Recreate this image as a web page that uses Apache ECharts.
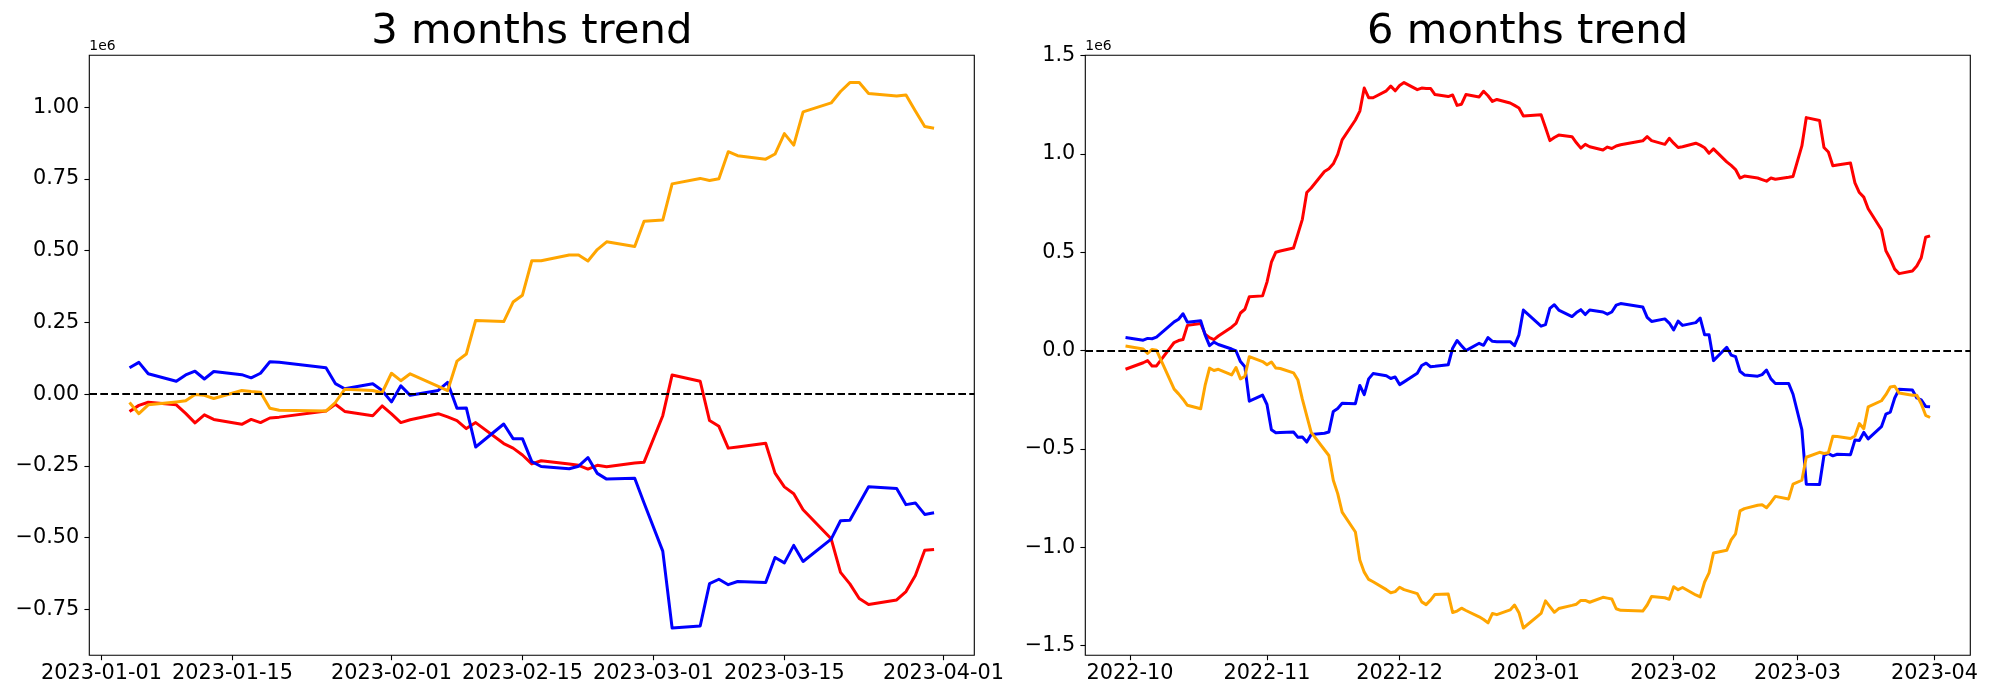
<!DOCTYPE html>
<html><head><meta charset="utf-8">
<script src="https://cdn.jsdelivr.net/npm/echarts@6/dist/echarts.min.js"></script>
<style>html,body{margin:0;padding:0;background:#fff}#c{width:2000px;height:700px}</style>
</head><body><div id="c"></div>
<script>
// ---------- data (values in units of 1e6) ----------
const datesShort = ['2023-01-04','2023-01-05','2023-01-06','2023-01-09','2023-01-10','2023-01-11','2023-01-12','2023-01-13','2023-01-16','2023-01-17','2023-01-18','2023-01-19','2023-01-20','2023-01-25','2023-01-26','2023-01-27','2023-01-30','2023-01-31','2023-02-01','2023-02-02','2023-02-03','2023-02-06','2023-02-07','2023-02-08','2023-02-09','2023-02-10','2023-02-13','2023-02-14','2023-02-15','2023-02-16','2023-02-17','2023-02-20','2023-02-21','2023-02-22','2023-02-23','2023-02-24','2023-02-27','2023-02-28','2023-03-02','2023-03-03','2023-03-06','2023-03-07','2023-03-08','2023-03-09','2023-03-10','2023-03-13','2023-03-14','2023-03-15','2023-03-16','2023-03-17','2023-03-20','2023-03-21','2023-03-22','2023-03-23','2023-03-24','2023-03-27','2023-03-28','2023-03-29','2023-03-30','2023-03-31'];
const redShort = [-0.060,-0.039,-0.028,-0.037,-0.067,-0.100,-0.072,-0.088,-0.105,-0.088,-0.099,-0.083,-0.080,-0.059,-0.035,-0.060,-0.075,-0.041,-0.069,-0.099,-0.089,-0.068,-0.079,-0.092,-0.120,-0.099,-0.172,-0.188,-0.212,-0.243,-0.232,-0.243,-0.248,-0.261,-0.248,-0.253,-0.240,-0.237,-0.075,0.067,0.045,-0.092,-0.112,-0.188,-0.184,-0.171,-0.275,-0.323,-0.347,-0.403,-0.504,-0.621,-0.661,-0.712,-0.733,-0.717,-0.688,-0.632,-0.544,-0.541];
const blueShort = [0.092,0.111,0.071,0.045,0.067,0.080,0.053,0.079,0.068,0.057,0.073,0.113,0.111,0.092,0.037,0.019,0.036,0.013,-0.027,0.029,-0.004,0.013,0.041,-0.049,-0.048,-0.184,-0.104,-0.155,-0.155,-0.235,-0.252,-0.260,-0.251,-0.221,-0.276,-0.296,-0.293,-0.379,-0.547,-0.815,-0.808,-0.660,-0.645,-0.664,-0.653,-0.656,-0.569,-0.588,-0.527,-0.583,-0.505,-0.441,-0.439,-0.381,-0.323,-0.329,-0.385,-0.379,-0.419,-0.413];
const orangeShort = [-0.029,-0.068,-0.037,-0.027,-0.023,-0.001,-0.004,-0.015,0.013,0.009,0.007,-0.049,-0.056,-0.059,-0.029,0.017,0.013,0.005,0.073,0.047,0.071,0.027,0.012,0.115,0.140,0.257,0.253,0.321,0.345,0.465,0.465,0.485,0.485,0.464,0.504,0.531,0.515,0.603,0.607,0.733,0.752,0.745,0.751,0.845,0.831,0.819,0.837,0.908,0.868,0.984,1.015,1.055,1.086,1.086,1.048,1.039,1.043,0.987,0.933,0.927];

const datesLong = ['2022-09-30','2022-10-04','2022-10-05','2022-10-06','2022-10-07','2022-10-11','2022-10-12','2022-10-13','2022-10-14','2022-10-17','2022-10-18','2022-10-19','2022-10-20','2022-10-21','2022-10-24','2022-10-25','2022-10-26','2022-10-27','2022-10-28','2022-10-31',
'2022-11-01','2022-11-02','2022-11-03','2022-11-04','2022-11-07','2022-11-08','2022-11-09','2022-11-10','2022-11-11','2022-11-14','2022-11-15','2022-11-16','2022-11-17','2022-11-18','2022-11-21','2022-11-22','2022-11-23','2022-11-24','2022-11-25','2022-11-28','2022-11-29','2022-11-30',
'2022-12-01','2022-12-02','2022-12-05','2022-12-06','2022-12-07','2022-12-08','2022-12-09','2022-12-12','2022-12-13','2022-12-14','2022-12-15','2022-12-16','2022-12-19','2022-12-20','2022-12-21','2022-12-22','2022-12-23','2022-12-26','2022-12-27','2022-12-28','2022-12-29',
'2023-01-02','2023-01-03','2023-01-04','2023-01-05','2023-01-06','2023-01-09','2023-01-10','2023-01-11','2023-01-12','2023-01-13','2023-01-16','2023-01-17','2023-01-18','2023-01-19','2023-01-20','2023-01-25','2023-01-26','2023-01-27','2023-01-30','2023-01-31',
'2023-02-01','2023-02-02','2023-02-03','2023-02-06','2023-02-07','2023-02-08','2023-02-09','2023-02-10','2023-02-13','2023-02-14','2023-02-15','2023-02-16','2023-02-17','2023-02-20','2023-02-21','2023-02-22','2023-02-23','2023-02-24','2023-02-27','2023-02-28',
'2023-03-02','2023-03-03','2023-03-06','2023-03-07','2023-03-08','2023-03-09','2023-03-10','2023-03-13','2023-03-14','2023-03-15','2023-03-16','2023-03-17','2023-03-20','2023-03-21','2023-03-22','2023-03-23','2023-03-24','2023-03-27','2023-03-28','2023-03-29','2023-03-30','2023-03-31'];
const redLong = [-0.095,-0.062,-0.051,-0.078,-0.078,0.041,0.051,0.056,0.128,0.138,0.084,0.066,0.056,0.074,0.119,0.138,0.191,0.210,0.274,0.278,
0.348,0.449,0.500,0.506,0.521,0.593,0.667,0.803,0.826,0.910,0.924,0.949,0.997,1.071,1.172,1.217,1.334,1.285,1.285,1.320,1.344,1.320,
1.347,1.362,1.326,1.334,1.332,1.332,1.301,1.291,1.299,1.246,1.252,1.301,1.289,1.318,1.295,1.266,1.276,1.258,1.246,1.233,1.192,
1.198,1.134,1.067,1.083,1.095,1.087,1.056,1.029,1.048,1.036,1.019,1.034,1.027,1.040,1.046,1.066,1.087,1.067,1.048,1.079,
1.054,1.032,1.036,1.054,1.044,1.031,1.003,1.025,0.959,0.941,0.920,0.877,0.887,0.877,0.869,0.861,0.877,0.871,0.881,0.885,
1.040,1.184,1.169,1.032,1.009,0.939,0.943,0.953,0.852,0.803,0.780,0.721,0.614,0.507,0.465,0.414,0.391,0.404,0.430,0.472,0.576,0.583];
const blueLong = [0.066,0.053,0.062,0.060,0.068,0.146,0.159,0.187,0.144,0.152,0.080,0.025,0.043,0.031,0.008,-0.002,-0.056,-0.082,-0.257,-0.226,
-0.274,-0.402,-0.418,-0.416,-0.414,-0.441,-0.439,-0.465,-0.426,-0.420,-0.414,-0.309,-0.294,-0.268,-0.270,-0.177,-0.224,-0.144,-0.117,-0.128,-0.142,-0.134,
-0.173,-0.159,-0.115,-0.076,-0.064,-0.082,-0.080,-0.072,0.012,0.051,0.025,0.000,0.037,0.027,0.066,0.047,0.045,0.045,0.025,0.080,0.206,
0.124,0.132,0.214,0.233,0.206,0.173,0.193,0.208,0.183,0.206,0.196,0.185,0.196,0.231,0.239,0.222,0.169,0.148,0.161,0.140,
0.105,0.150,0.128,0.142,0.165,0.080,0.080,-0.051,0.017,-0.023,-0.031,-0.105,-0.124,-0.130,-0.122,-0.099,-0.144,-0.167,-0.167,-0.222,
-0.402,-0.679,-0.681,-0.533,-0.523,-0.535,-0.527,-0.529,-0.455,-0.457,-0.416,-0.449,-0.387,-0.323,-0.313,-0.241,-0.196,-0.200,-0.241,-0.251,-0.284,-0.286];
const orangeLong = [0.023,0.008,-0.014,0.006,0.002,-0.196,-0.220,-0.247,-0.278,-0.296,-0.177,-0.089,-0.101,-0.095,-0.124,-0.086,-0.144,-0.130,-0.031,-0.056,
-0.072,-0.058,-0.089,-0.091,-0.113,-0.150,-0.247,-0.332,-0.416,-0.504,-0.533,-0.659,-0.727,-0.821,-0.922,-1.064,-1.126,-1.163,-1.175,-1.215,-1.231,-1.225,
-1.203,-1.215,-1.235,-1.277,-1.291,-1.268,-1.239,-1.237,-1.331,-1.324,-1.309,-1.321,-1.353,-1.367,-1.384,-1.336,-1.342,-1.318,-1.293,-1.332,-1.410,
-1.336,-1.272,-1.301,-1.330,-1.311,-1.295,-1.289,-1.270,-1.270,-1.279,-1.254,-1.258,-1.262,-1.312,-1.320,-1.324,-1.293,-1.250,-1.256,-1.264,
-1.200,-1.215,-1.204,-1.242,-1.252,-1.176,-1.130,-1.029,-1.015,-0.962,-0.931,-0.815,-0.803,-0.786,-0.784,-0.799,-0.772,-0.741,-0.754,-0.679,
-0.659,-0.542,-0.517,-0.523,-0.519,-0.436,-0.437,-0.447,-0.434,-0.371,-0.397,-0.286,-0.255,-0.224,-0.185,-0.181,-0.216,-0.227,-0.227,-0.270,-0.329,-0.340];

const xTicksShort = ['2023-01-01','2023-01-15','2023-02-01','2023-02-15','2023-03-01','2023-03-15','2023-04-01'];
const xTicksLong = ['2022-10-01','2022-11-01','2022-12-01','2023-01-01','2023-02-01','2023-03-01','2023-04-01'];
const yTicksShort = [-0.75,-0.5,-0.25,0,0.25,0.5,0.75,1.0];
const yTicksLong = [-1.5,-1.0,-0.5,0,0.5,1.0,1.5];
const titles = ['3 months trend','6 months trend'];
const offsetText = '1e6';
const colors = {red:'#ff0000', blue:'#0000ff', orange:'#ffa500'};

// ---------- helpers ----------
const DAY=86400000;
function dnum(s){const p=s.split('-').map(Number);return Date.UTC(p[0],p[1]-1,p[2]||1)/DAY;}
function p2(n){return n<10?'0'+n:''+n;}
function fmtDay(v){const d=new Date(Math.round(v)*DAY);return d.getUTCFullYear()+'-'+p2(d.getUTCMonth()+1)+'-'+p2(d.getUTCDate());}
function fmtMonth(v){const d=new Date(Math.round(v)*DAY);return d.getUTCFullYear()+'-'+p2(d.getUTCMonth()+1);}
function fmtNum(dec){return v=>{const s=Math.abs(v).toFixed(dec);return (v<-1e-9?'\u2212':'')+s;};}
function ext(arrs){let mn=Infinity,mx=-Infinity;arrs.forEach(a=>a.forEach(v=>{if(v<mn)mn=v;if(v>mx)mx=v;}));const m=(mx-mn)*0.05;return [mn-m,mx+m];}
function pairs(d,v){return d.map((s,i)=>[dnum(s),v[i]]);}

const FONT='DejaVu Sans';
const TICKFS=20.8;
const panels=[
  {dates:datesShort,red:redShort,blue:blueShort,orange:orangeShort,xt:xTicksShort,yt:yTicksShort,xf:fmtDay,yf:fmtNum(2),left:89.3,cx:531.8},
  {dates:datesLong,red:redLong,blue:blueLong,orange:orangeLong,xt:xTicksLong,yt:yTicksLong,xf:fmtMonth,yf:fmtNum(1),left:1085.3,cx:1527.6}
];
const grid=[],xAxis=[],yAxis=[],series=[],title=[];
panels.forEach((p,i)=>{
  grid.push({left:p.left,top:55.3,width:885,height:600,show:true,borderColor:'#000',borderWidth:1.1,backgroundColor:'transparent'});
  const xe=ext([p.dates.map(dnum)]);
  const ye=ext([p.red,p.blue,p.orange]);
  const tickStyle={show:true,inside:false,length:4.9,lineStyle:{color:'#000',width:1.1}};
  xAxis.push({type:'value',gridIndex:i,min:xe[0],max:xe[1],scale:true,
    axisLine:{show:false,onZero:false},splitLine:{show:false},
    axisTick:Object.assign({customValues:p.xt.map(dnum)},tickStyle),
    axisLabel:{customValues:p.xt.map(dnum),formatter:p.xf,fontSize:TICKFS,color:'#000',fontFamily:FONT,margin:7.5}});
  yAxis.push({type:'value',gridIndex:i,min:ye[0],max:ye[1],
    axisLine:{show:false,onZero:false},splitLine:{show:false},
    axisTick:Object.assign({customValues:p.yt},tickStyle),
    axisLabel:{customValues:p.yt,formatter:p.yf,fontSize:TICKFS,color:'#000',fontFamily:FONT,margin:10},
    name:offsetText,nameLocation:'end',nameGap:2,
    nameTextStyle:{fontSize:13.9,color:'#000',fontFamily:FONT,align:'left',verticalAlign:'bottom'}});
  title.push({text:titles[i],left:p.cx,top:11.4,textAlign:'center',padding:0,
    textStyle:{fontSize:41.7,fontWeight:'normal',color:'#000',fontFamily:FONT,lineHeight:41.7}});
  [['red',p.red],['blue',p.blue],['orange',p.orange]].forEach(([k,vals],j)=>{
    const s={type:'line',xAxisIndex:i,yAxisIndex:i,data:pairs(p.dates,vals),symbol:'none',showSymbol:false,
      lineStyle:{color:colors[k],width:3,join:'round',cap:'butt'},itemStyle:{color:colors[k]},
      silent:true,animation:false,z:2+j};
    if(j===2){
      s.markLine={silent:true,symbol:['none','none'],label:{show:false},animation:false,
        lineStyle:{color:'#000',type:[7.7,3.3],width:2.2},emphasis:{disabled:true},data:[{yAxis:0}]};
    }
    series.push(s);
  });
});
const chart=echarts.init(document.getElementById('c'),null,{renderer:'canvas'});
chart.setOption({backgroundColor:'#fff',animation:false,title,grid,xAxis,yAxis,series});
</script></body></html>
